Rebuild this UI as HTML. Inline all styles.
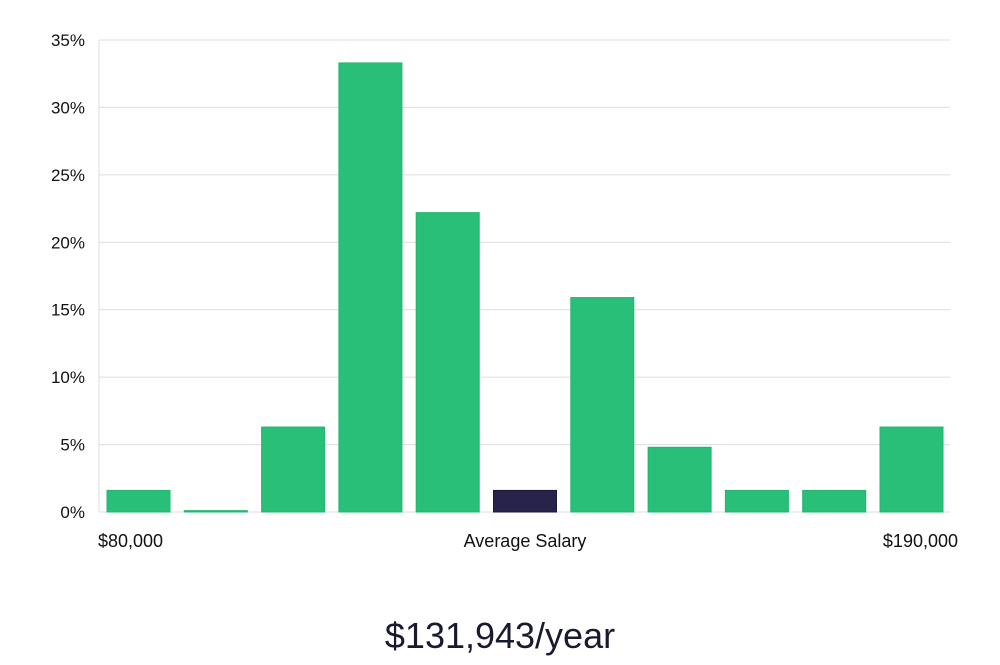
<!DOCTYPE html>
<html><head><meta charset="utf-8"><style>
body{margin:0;background:#fff;width:1000px;height:660px;overflow:hidden;font-family:"Liberation Sans","DejaVu Sans",sans-serif;}
</style></head><body>
<svg width="1000" height="660" id="chart">
<g id="grid"></g><g id="bars"></g><g id="labels"></g>
<text x="500" y="648" text-anchor="middle" font-size="36" fill="#1a1a2e">$131,943/year</text>
</svg>
<script>
const categories=["b1","b2","b3","b4","b5","b6","b7","b8","b9","b10","b11"];
const values=[1.6,0.1,6.3,33.3,22.2,1.6,15.9,4.8,1.6,1.6,6.3];
const highlight=[0,0,0,0,0,1,0,0,0,0,0];
const yTicks=[0,5,10,15,20,25,30,35];
const yTickLabels=["0%","5%","10%","15%","20%","25%","30%","35%"];
const xLabels=["$80,000","Average Salary","$190,000"];
const NS="http://www.w3.org/2000/svg";
const x0=99,x1=950,yb=512,yt=40,ymax=35;
const y=v=>yb-(v/ymax)*(yb-yt);
const step=(x1-x0)/categories.length;
const bw=63;
const xb=i=>x0+8+i*77.3;
function mk(t,a,p){const e=document.createElementNS(NS,t);for(const k in a)e.setAttribute(k,a[k]);p.appendChild(e);return e;}
const grid=document.getElementById('grid'),bars=document.getElementById('bars'),labels=document.getElementById('labels');
yTicks.forEach((t,i)=>{
 const l=mk('line',{x1:x0,x2:x1,y1:y(t),y2:y(t),stroke:'#dcdcdc','stroke-width':1},grid);
 
 
 const tx=mk('text',{x:85,y:y(t)+6,'text-anchor':'end','font-size':17,fill:'#111'},labels);
 tx.textContent=yTickLabels[i];
 
 
});
const ax=mk('line',{x1:x0,x2:x0,y1:yt,y2:yb,stroke:'#dcdcdc'},grid);


values.forEach((v,i)=>{
 const h=Math.max(1,yb-y(v));
 const r=mk('rect',{x:xb(i),y:yb-h,width:bw,height:h,fill:highlight[i]?'#27234a':'#29bf78',stroke:highlight[i]?'#1a1838':'#22b56e','stroke-width':1},bars);
 
 
});
const xl=[[98,'start'],[525,'middle'],[958,'end']];
xLabels.forEach((s,i)=>{
 const t=mk('text',{x:xl[i][0],y:547,'text-anchor':xl[i][1],'font-size':18,fill:'#111'},labels);
 t.textContent=s;
 
 
});
</script>
</body></html>
